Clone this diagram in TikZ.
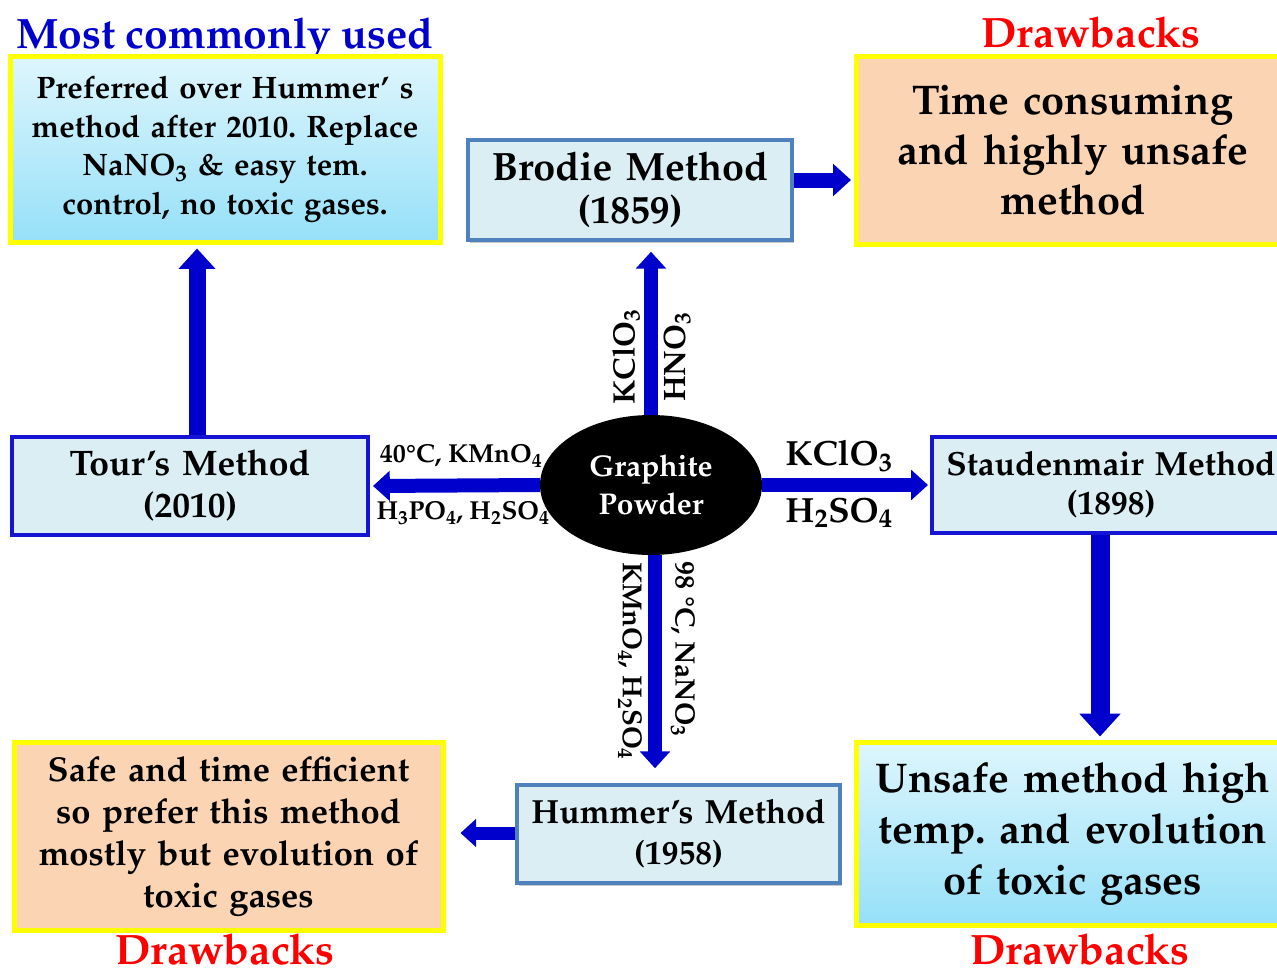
\documentclass[tikz,border=0pt]{standalone}
\usepackage[T1]{fontenc}
\usepackage{mathpazo}
\usepackage{textcomp}
\usetikzlibrary{arrows.meta,shapes.geometric,shadows}
\frenchspacing
\definecolor{arrblue}{RGB}{0,0,204}
\definecolor{boxblue}{RGB}{20,20,210}
\definecolor{steel}{RGB}{79,129,189}
\definecolor{lbfill}{RGB}{218,238,243}
\definecolor{peach}{RGB}{251,212,180}
\definecolor{cyantop}{RGB}{222,246,253}
\definecolor{cyanbot}{RGB}{150,224,248}
\definecolor{ybord}{RGB}{255,255,0}
\newcommand{\myfs}[2]{\fontsize{#1}{#2}\selectfont}
\tikzset{
  shad/.style={drop shadow={shadow xshift=2pt,shadow yshift=-3pt,opacity=0.35,fill=black!60}},
  ybox/.style={draw=ybord, line width=5pt, align=center, inner sep=0pt, shad},
  cyanbox/.style={ybox, top color=cyantop, bottom color=cyanbot},
  peachbox/.style={ybox, fill=peach},
  methodbox/.style={draw=steel, fill=lbfill, line width=3.5pt, align=center, inner sep=0pt, shad},
  methodbox2/.style={draw=boxblue, fill=lbfill, line width=4pt, align=center, inner sep=0pt},
  bigarrow/.style={draw=arrblue, line width=#1, -{Triangle[width=2.1*#1, length=1.2*#1]}},
  bigarrow/.default=14pt,
  lbl/.style={inner sep=0pt},
  ttl/.style={inner sep=0pt, anchor=base, font=\bfseries\myfs{42.5}{46}},
}
\begin{document}
\begin{tikzpicture}[x=1pt,y=-1pt]
\useasboundingbox (0,0) rectangle (1277,971);
\fill[white] (0,0) rectangle (1277,971);

% titles
\node[ttl, text=arrblue] (t1) at (225,49) {Most commonly used};
\node[ttl, text=red] (t2) at (1091,48) {Drawbacks};
\node[ttl, text=red] (t3) at (225,964) {Drawbacks};
\node[ttl, text=red] (t4) at (1080,964) {Drawbacks};

% boxes
\node[cyanbox, minimum width=430pt, minimum height=185pt, text width=425pt,
      font=\bfseries\myfs{31}{38.5}] (tl) at (225,149.5)
  {Preferred over Hummer' s\\method after 2010. Replace\\NaNO\textsubscript{3} \& easy tem.\\control, no toxic gases.};
\node[methodbox, minimum width=324pt, minimum height=100pt, text width=320pt,
      font=\bfseries\myfs{39.5}{43}] (brodie) at (630,190)
  {Brodie Method\\(1859)};
\node[peachbox, minimum width=433pt, minimum height=187pt, text width=428pt,
      font=\bfseries\myfs{41.5}{50}] (time) at (1073,150.5)
  {Time consuming\\and highly unsafe\\method};
\node[methodbox2, minimum width=356pt, minimum height=98pt, text width=350pt,
      font=\bfseries\myfs{35.5}{42}] (tour) at (190,486)
  {Tour's Method\\(2010)};
\node[methodbox2, minimum width=358pt, minimum height=96pt, text width=355pt,
      font=\bfseries\myfs{33.5}{39}] (staud) at (1111,485)
  {Staudenmair Method\\(1898)};
\node[methodbox, minimum width=323pt, minimum height=98pt, text width=320pt,
      font=\bfseries\myfs{33.5}{41}] (hummer) at (678.5,834)
  {Hummer's Method\\(1958)};
\node[peachbox, minimum width=429pt, minimum height=188pt, text width=425pt,
      font=\bfseries\myfs{34.5}{42}] (bl) at (228.5,836)
  {Safe and time efficient\\so prefer this method\\mostly but evolution of\\toxic gases};
\node[cyanbox, minimum width=433pt, minimum height=183pt, text width=428pt,
      font=\bfseries\myfs{41.5}{51}] (br) at (1073,833.5)
  {Unsafe method high\\temp. and evolution\\of toxic gases};

% center
\node[ellipse, fill=black, minimum width=222pt, minimum height=140pt, inner sep=0pt, align=center,
      text=white, font=\bfseries\myfs{30}{38}] (g) at (651,485) {Graphite\\Powder};

% arrows
\draw[bigarrow] (g.north) -- ([yshift=-10pt]g.north |- brodie.south);
\draw[bigarrow] (g.west) -- ([xshift=3pt]tour.east);
\draw[bigarrow] (g.east) -- ([xshift=-2pt]staud.west);
\draw[bigarrow] ([xshift=4pt]g.south) -- ([xshift=4pt,yshift=15pt]g.south |- hummer.north);
\draw[bigarrow=15pt] ([yshift=10pt]brodie.east) coordinate (bA) -- ([xshift=-3pt]bA -| time.west);
\draw[bigarrow=17pt] ([xshift=7pt]tour.north) -- ([xshift=7pt,yshift=-4pt]tour.north |- tl.south);
\draw[bigarrow=19pt] ([xshift=-11pt]staud.south) -- ([xshift=-11pt,yshift=3pt]staud.south |- br.north);
\draw[bigarrow=13pt] ([yshift=1pt]hummer.west) coordinate (hA) -- ([xshift=15pt]hA -| bl.east);

% reagent labels
\node[lbl, rotate=90, font=\bfseries\myfs{31}{33}] (u1) at (626,357) {KClO\textsubscript{3}};
\node[lbl, rotate=90, font=\bfseries\myfs{31}{33}] (u2) at (677,357) {HNO\textsubscript{3}};
\node[lbl, font=\bfseries\myfs{26}{28}] (l1) at (461,456) {40\textdegree C, KMnO\textsubscript{4}};
\node[lbl, font=\bfseries\myfs{26}{28}] (l2) at (463,513) {H\textsubscript{3}PO\textsubscript{4}, H\textsubscript{2}SO\textsubscript{4}};
\node[lbl, font=\bfseries\myfs{35}{37}] (r1) at (839,456) {KClO\textsubscript{3}};
\node[lbl, font=\bfseries\myfs{35}{37}] (r2) at (839,513) {H\textsubscript{2}SO\textsubscript{4}};
\node[lbl, rotate=-90, font=\bfseries\myfs{27.5}{30}] (d1) at (630,661) {KMnO\textsubscript{4}, H\textsubscript{2}SO\textsubscript{4}};
\node[lbl, rotate=-90, font=\bfseries\myfs{28}{30}] (d2) at (683,649) {98 \textdegree C, NaNO\textsubscript{3}};
\end{tikzpicture}
\end{document}
